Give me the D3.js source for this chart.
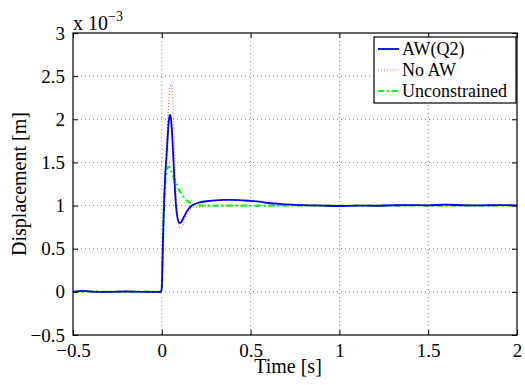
<!DOCTYPE html>
<html>
<head>
<meta charset="utf-8">
<script src="https://cdn.jsdelivr.net/npm/d3@7"></script>
<style>
  body { margin: 0; background: #fff; }
  svg text { font-family: "Liberation Serif", "Times New Roman", serif; fill: #000; }
</style>
</head>
<body>
<div class="d3"></div>
<script>
// time samples (s)
var time = [-0.5, -0.45, -0.4, -0.3, -0.2, -0.1, -0.005, 0, 0.005, 0.01, 0.015, 0.02, 0.025, 0.03, 0.035, 0.04,
  0.045, 0.05, 0.055, 0.06, 0.065, 0.07, 0.075, 0.08, 0.085, 0.09, 0.095, 0.1, 0.105, 0.11, 0.12, 0.13,
  0.14, 0.15, 0.17, 0.2, 0.25, 0.3, 0.35, 0.4, 0.45, 0.5, 0.55, 0.6, 0.7, 0.8, 0.9, 1.0, 1.1, 1.2,
  1.3, 1.4, 1.5, 1.6, 1.7, 1.8, 1.9, 2.0];

// displacement, x 1e-3 m
var awQ2 = [0, 0.012, 0.003, 0, 0.004, 0, 0, 0.05, 0.45, 0.85, 1.15, 1.38, 1.52, 1.68, 1.86, 1.99,
  2.05, 2.03, 1.93, 1.76, 1.55, 1.34, 1.15, 1.0, 0.9, 0.84, 0.81, 0.8, 0.8, 0.81, 0.85, 0.89,
  0.93, 0.96, 1.0, 1.03, 1.05, 1.06, 1.065, 1.065, 1.06, 1.055, 1.045, 1.03, 1.015, 1.005, 1.0, 0.995, 1.0, 0.998,
  1.003, 1.006, 1.003, 1.01, 1.004, 1.002, 1.005, 1.003];

var noAW = [0, 0.003, 0, 0.004, 0, 0.003, 0, 0.05, 0.45, 0.85, 1.15, 1.42, 1.64, 1.86, 2.06, 2.22,
  2.34, 2.41, 2.42, 2.3, 2.05, 1.75, 1.46, 1.2, 1.0, 0.86, 0.78, 0.75, 0.74, 0.74, 0.78, 0.84,
  0.89, 0.93, 0.97, 0.985, 0.99, 0.995, 0.995, 0.998, 1.0, 0.998, 1.0, 1.0, 0.998, 1.0, 1.0, 0.997, 1.0, 1.0,
  1.002, 1.0, 1.003, 1.0, 1.002, 1.0, 1.001, 1.0];

var unconstrained = [0, 0, 0.002, 0, 0, 0.002, 0, 0.05, 0.45, 0.85, 1.1, 1.27, 1.36, 1.42, 1.45, 1.45,
  1.44, 1.42, 1.39, 1.36, 1.33, 1.31, 1.29, 1.26, 1.24, 1.21, 1.19, 1.17, 1.155, 1.14, 1.11, 1.08,
  1.06, 1.045, 1.02, 1.005, 1.0, 0.998, 1.0, 1.0, 1.0, 0.998, 1.0, 1.0, 1.0, 1.0, 1.0, 1.0, 1.0, 1.0,
  1.0, 1.0, 1.0, 1.0, 1.0, 1.0, 1.0, 1.0];

var xTicks = [-0.5, 0, 0.5, 1, 1.5, 2];
var yTicks = [-0.5, 0, 0.5, 1, 1.5, 2, 2.5, 3];
var seriesNames = ["AW(Q2)", "No AW", "Unconstrained"];

var serif = "Liberation Serif";

var margin = {top: 33, right: 8, bottom: 50, left: 73},
    width = 525 - margin.left - margin.right,
    height = 385 - margin.top - margin.bottom;

var x = d3.scaleLinear().domain([-0.5, 2]).range([0, width]);
var y = d3.scaleLinear().domain([-0.5, 3]).range([height, 0]);

var svg = d3.select(".d3").append("svg")
    .attr("width", 525)
    .attr("height", 385)
  .append("g")
    .attr("transform", "translate(" + margin.left + "," + margin.top + ")");

// grid
svg.append("g").selectAll("line")
    .data(xTicks.slice(1, -1))
  .enter().append("line")
    .attr("x1", function(d) { return x(d); }).attr("x2", function(d) { return x(d); })
    .attr("y1", 0).attr("y2", height)
    .attr("stroke", "#888").attr("stroke-width", 1).attr("stroke-dasharray", "1,3");
svg.append("g").selectAll("line")
    .data(yTicks.slice(1, -1))
  .enter().append("line")
    .attr("y1", function(d) { return y(d); }).attr("y2", function(d) { return y(d); })
    .attr("x1", 0).attr("x2", width)
    .attr("stroke", "#888").attr("stroke-width", 1).attr("stroke-dasharray", "1,3");

var series = [
  {name: seriesNames[0], values: awQ2, color: "#0000ff", width: 1.8, dash: null},
  {name: seriesNames[1], values: noAW, color: "#ff5c5c", width: 1.2, dash: "1,2"},
  {name: seriesNames[2], values: unconstrained, color: "#00ff00", width: 2.2, dash: "6,3,2,3"}
];

var line = d3.line()
    .x(function(d) { return x(d[0]); })
    .y(function(d) { return y(d[1]); })
    .curve(d3.curveMonotoneX);

var plot = svg.append("g");
// blue drawn last so it sits on top like the reference
[series[1], series[2], series[0]].forEach(function(s) {
  plot.append("path")
      .datum(time.map(function(t, i) { return [t, s.values[i]]; }))
      .attr("fill", "none")
      .attr("stroke", s.color)
      .attr("stroke-width", s.width)
      .attr("stroke-dasharray", s.dash)
      .attr("d", line);
});

// axes (ticks pointing inwards, box on all sides)
var fmt = function(d) { return d3.format("")(d).replace("-", "\u2212"); };

function tidy(g) {
  g.attr("font-family", serif).attr("font-size", 19);
  g.select(".domain").remove();
  g.selectAll(".tick line").attr("stroke", "#000");
}

svg.append("g")
    .attr("transform", "translate(0," + height + ")")
    .call(d3.axisBottom(x).tickValues(xTicks).tickSize(-5).tickPadding(9).tickFormat(fmt))
    .call(tidy);
svg.append("g")
    .call(d3.axisTop(x).tickValues(xTicks).tickSize(-5).tickFormat(""))
    .call(tidy);
svg.append("g")
    .call(d3.axisLeft(y).tickValues(yTicks).tickSize(-5).tickPadding(8).tickFormat(fmt))
    .call(tidy);
svg.append("g")
    .attr("transform", "translate(" + width + ",0)")
    .call(d3.axisRight(y).tickValues(yTicks).tickSize(-5).tickFormat(""))
    .call(tidy);

svg.append("rect")
    .attr("width", width).attr("height", height)
    .attr("fill", "none").attr("stroke", "#000").attr("stroke-width", 1.2);

// exponent
var expo = svg.append("text")
    .attr("x", 0).attr("y", -3)
    .style("font-size", "20px");
expo.append("tspan").text("x 10");
expo.append("tspan").attr("dy", -9).style("font-size", "14px").text("\u22123");

// labels
svg.append("text")
    .attr("x", width / 2 - 7).attr("y", height + 38)
    .attr("text-anchor", "middle")
    .style("font-size", "20px")
    .text("Time [s]");
svg.append("text")
    .attr("transform", "translate(" + (-47) + "," + (height / 2) + ") rotate(-90)")
    .attr("text-anchor", "middle")
    .style("font-size", "20px")
    .text("Displacement [m]");

// legend
var legend = svg.append("g").attr("transform", "translate(" + (width - 143) + ",4)");
legend.append("rect")
    .attr("width", 142).attr("height", 66)
    .attr("fill", "#fff").attr("stroke", "#000").attr("stroke-width", 1.2);
series.forEach(function(s, i) {
  var row = legend.append("g").attr("transform", "translate(0," + (12 + i * 21) + ")");
  row.append("line")
      .attr("x1", 4).attr("x2", 25)
      .attr("stroke", s.color)
      .attr("stroke-width", s.width)
      .attr("stroke-dasharray", s.dash);
  row.append("text")
      .attr("x", 28).attr("dy", "0.35em")
      .style("font-size", "18px")
      .text(s.name);
});
</script>
</body>
</html>
